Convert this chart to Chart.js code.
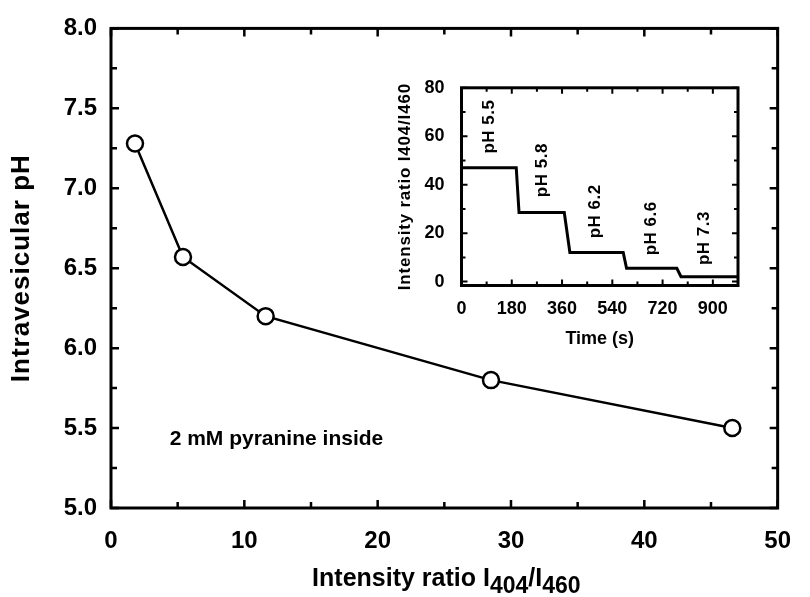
<!DOCTYPE html>
<html lang="en">
<head>
<meta charset="UTF-8">
<title>Intravesicular pH vs intensity ratio</title>
<script src="https://cdn.jsdelivr.net/npm/chart.js"></script>
<style>
  html, body { margin: 0; padding: 0; background: #fff; }
  #wrap { position: relative; width: 810px; height: 597px; }
  #mainChart { position: absolute; left: 0; top: 0; }
  #insetChart { position: absolute; left: 380px; top: 60px; }
</style>
</head>
<body>
<div id="wrap">
  <canvas id="mainChart" width="810" height="597"></canvas>
  <canvas id="insetChart" width="380" height="300"></canvas>
</div>
<script>
// main panel: intravesicular pH against the I404/I460 ratio
const ratio = [1.8, 5.4, 11.6, 28.5, 46.6];
const phInside = [7.28, 6.57, 6.20, 5.80, 5.50];
const mainXTicks = [0, 10, 20, 30, 40, 50];
const mainYTicks = [5.0, 5.5, 6.0, 6.5, 7.0, 7.5, 8.0];

// inset: ratio against time while the pH is stepped
const time = [0, 196, 206, 368, 388, 579, 591, 771, 786, 990];
const stepRatio = [47, 47, 28.5, 28.5, 12, 12, 5.5, 5.5, 2, 2];
const stepLabels = ['pH 5.5', 'pH 5.8', 'pH 6.2', 'pH 6.6', 'pH 7.3'];
const stepLabelTime = [98, 290, 479, 679, 870];
const stepLabelRatio = [64, 46, 29, 22, 18];
const insetXTicks = [0, 180, 360, 540, 720, 900];
const insetYTicks = [0, 20, 40, 60, 80];

const FONT = '"Liberation Sans", Arial, sans-serif';

// text with subscript pieces, e.g. [['I', 0], ['404', 1]]
function setFont(ctx, size, sub, o) {
  ctx.font = 'bold ' + (sub ? size * o.subScale : size) + 'px ' + FONT;
}
function drawRich(ctx, parts, x, y, size, o) {
  ctx.letterSpacing = (o.spacing || 0) + 'px';
  let w = 0;
  parts.forEach(([t, sub]) => { setFont(ctx, size, sub, o); w += ctx.measureText(t).width; });
  let cx = x - w / 2;
  ctx.textAlign = 'left';
  ctx.textBaseline = 'middle';
  parts.forEach(([t, sub]) => {
    setFont(ctx, size, sub, o);
    ctx.fillText(t, cx, sub ? y + size * 0.3 : y);
    cx += ctx.measureText(t).width;
  });
  ctx.letterSpacing = '0px';
}

function minorsOf(vals, min, max) {
  const step = vals[1] - vals[0];
  const out = [];
  for (let v = vals[0] - step / 2; v <= max + 1e-9; v += step) {
    if (v >= min - 1e-9) out.push(v);
  }
  return out;
}

// frame with inward ticks on all four sides
const frameTicks = {
  id: 'frameTicks',
  afterDatasetsDraw(chart, args, o) {
    const { ctx, chartArea: a, scales: { x, y } } = chart;
    ctx.save();
    ctx.strokeStyle = '#000';
    ctx.lineWidth = o.tickWidth;
    const xs = x.ticks.map(t => t.value);
    const ys = y.ticks.map(t => t.value);
    const tickX = (v, len) => {
      const p = x.getPixelForValue(v);
      ctx.beginPath();
      ctx.moveTo(p, a.bottom); ctx.lineTo(p, a.bottom - len);
      ctx.moveTo(p, a.top); ctx.lineTo(p, a.top + len);
      ctx.stroke();
    };
    const tickY = (v, len) => {
      const p = y.getPixelForValue(v);
      ctx.beginPath();
      ctx.moveTo(a.left, p); ctx.lineTo(a.left + len, p);
      ctx.moveTo(a.right, p); ctx.lineTo(a.right - len, p);
      ctx.stroke();
    };
    xs.forEach(v => tickX(v, o.major));
    minorsOf(xs, x.min, x.max).forEach(v => tickX(v, o.minor));
    ys.forEach(v => tickY(v, o.major));
    minorsOf(ys, y.min, y.max).forEach(v => tickY(v, o.minor));
    ctx.lineWidth = o.frameWidth;
    ctx.strokeRect(a.left, a.top, a.right - a.left, a.bottom - a.top);
    ctx.restore();
  }
};

// axis titles and free text
const labelsPlugin = {
  id: 'labels',
  afterDraw(chart, args, o) {
    const { ctx, chartArea: a, scales: { x, y } } = chart;
    ctx.save();
    ctx.fillStyle = '#000';
    drawRich(ctx, o.xTitle, (a.left + a.right) / 2 + (o.xTitleShift || 0), o.xTitleY, o.xTitleSize, o);
    ctx.translate(o.yTitleX, (a.top + a.bottom) / 2);
    ctx.rotate(-Math.PI / 2);
    drawRich(ctx, o.yTitle, 0, 0, o.yTitleSize, { subScale: 1, spacing: o.yTitleSpacing });
    ctx.restore();
    (o.notes || []).forEach(n => {
      ctx.save();
      ctx.fillStyle = '#000';
      ctx.font = 'bold ' + n.size + 'px ' + FONT;
      ctx.letterSpacing = (n.spacing || 0) + 'px';
      ctx.textBaseline = 'middle';
      const px = x.getPixelForValue(n.x), py = y.getPixelForValue(n.y);
      if (n.rotate) {
        ctx.translate(px, py);
        ctx.rotate(-Math.PI / 2);
        ctx.textAlign = 'center';
        ctx.fillText(n.text, 0, 0);
      } else {
        ctx.textAlign = 'left';
        ctx.fillText(n.text, px, py);
      }
      ctx.restore();
    });
  }
};

function setTicks(list) {
  return scale => { scale.ticks = list.map(v => ({ value: v })); };
}

new Chart(document.getElementById('mainChart'), {
  type: 'line',
  data: {
    datasets: [{
      data: ratio.map((r, i) => ({ x: r, y: phInside[i] })),
      borderColor: '#000',
      borderWidth: 2.5,
      tension: 0,
      pointRadius: 8,
      pointBorderWidth: 2.5,
      pointBackgroundColor: '#fff',
      pointBorderColor: '#000'
    }]
  },
  options: {
    responsive: false,
    animation: false,
    layout: { padding: { left: 0, right: 27, top: 25, bottom: 0 } },
    plugins: {
      legend: { display: false },
      tooltip: { enabled: false },
      frameTicks: { tickWidth: 2.5, major: 8, minor: 6, frameWidth: 3 },
      labels: {
        xTitleSize: 25,
        subScale: 0.92,
        xTitle: [['Intensity ratio I', 0], ['404', 1], ['/I', 0], ['460', 1]],
        xTitleY: 579,
        xTitleShift: 2,
        yTitleSize: 26,
        yTitleSpacing: 1,
        yTitle: [['Intravesicular pH', 0]],
        yTitleX: 22,
        notes: [{ text: '2 mM pyranine inside', x: 4.4, y: 5.43, size: 21 }]
      }
    },
    scales: {
      x: {
        type: 'linear', min: 0, max: 50,
        afterBuildTicks: setTicks(mainXTicks),
        afterFit: s => { s.height = 89; },
        grid: { display: false, drawTicks: false },
        border: { display: false },
        ticks: { color: '#000', padding: 19, maxRotation: 0, font: { family: FONT, size: 24, weight: 'bold' } }
      },
      y: {
        type: 'linear', min: 5, max: 8,
        afterBuildTicks: setTicks(mainYTicks),
        afterFit: s => { s.width = 111; },
        grid: { display: false, drawTicks: false },
        border: { display: false },
        ticks: { color: '#000', padding: 14, callback: v => v.toFixed(1), font: { family: FONT, size: 24, weight: 'bold' } }
      }
    }
  },
  plugins: [frameTicks, labelsPlugin]
});

new Chart(document.getElementById('insetChart'), {
  type: 'line',
  data: {
    datasets: [{
      data: time.map((t, i) => ({ x: t, y: stepRatio[i] })),
      borderColor: '#000',
      borderWidth: 3,
      tension: 0,
      pointRadius: 0,
      borderJoinStyle: 'miter'
    }]
  },
  options: {
    responsive: false,
    animation: false,
    layout: { padding: { left: 0, right: 22, top: 24, bottom: 0 } },
    plugins: {
      legend: { display: false },
      tooltip: { enabled: false },
      frameTicks: { tickWidth: 2, major: 6, minor: 4, frameWidth: 3 },
      labels: {
        xTitleSize: 18,
        subScale: 1,
        xTitle: [['Time (s)', 0]],
        xTitleY: 279,
        yTitleSize: 17,
        yTitleSpacing: 0.8,
        yTitle: [['Intensity ratio I404/I460', 0]],
        yTitleX: 25,
        notes: stepLabels.map((t, i) => ({ text: t, x: stepLabelTime[i], y: stepLabelRatio[i], size: 17, spacing: 0.5, rotate: true }))
      }
    },
    scales: {
      x: {
        type: 'linear', min: 0, max: 990,
        afterBuildTicks: setTicks(insetXTicks),
        afterFit: s => { s.height = 74.5; },
        grid: { display: false, drawTicks: false },
        border: { display: false },
        ticks: { color: '#000', padding: 13, maxRotation: 0, font: { family: FONT, size: 18, weight: 'bold' } }
      },
      y: {
        type: 'linear', min: -1.6, max: 80,
        afterBuildTicks: setTicks(insetYTicks),
        afterFit: s => { s.width = 81.5; },
        grid: { display: false, drawTicks: false },
        border: { display: false },
        ticks: { color: '#000', padding: 17, font: { family: FONT, size: 18, weight: 'bold' } }
      }
    }
  },
  plugins: [frameTicks, labelsPlugin]
});
</script>
</body>
</html>
